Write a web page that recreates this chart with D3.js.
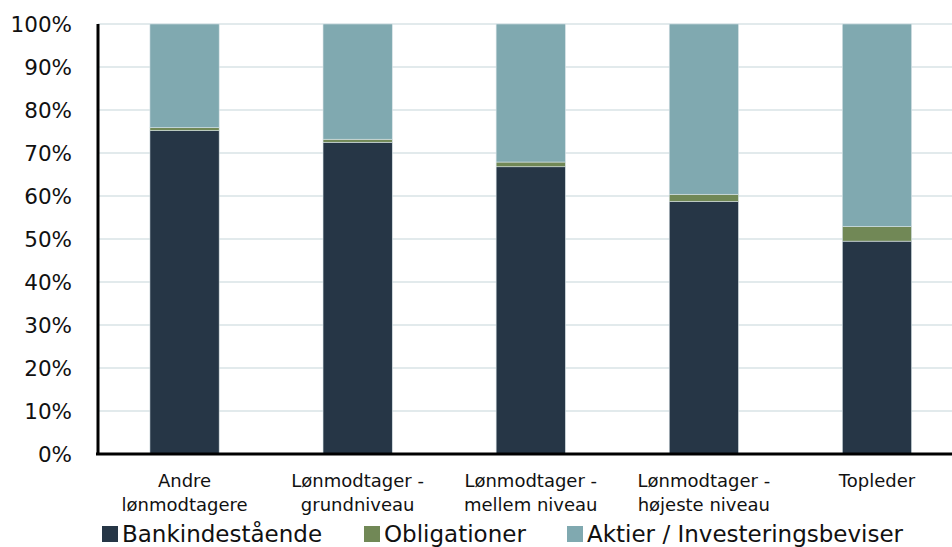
<!DOCTYPE html>
<html><head><meta charset="utf-8">
<script src="https://cdn.jsdelivr.net/npm/d3@7"></script>
<style>body{margin:0;background:#fff}svg{display:block}</style>
</head><body><svg id="c" width="952" height="547"></svg>
<script>
const categories = [["Andre","lønmodtagere"],["Lønmodtager -","grundniveau"],["Lønmodtager -","mellem niveau"],["Lønmodtager -","højeste niveau"],["Topleder"]];
const seriesNames = ["Bankindestående","Obligationer","Aktier / Investeringsbeviser"];
const bank = [75.2, 72.5, 66.8, 58.7, 49.5];
const oblig = [0.7, 0.7, 1.1, 1.7, 3.4];
const aktier = bank.map((b,i)=>100-b-oblig[i]);
const colors = ["#263646","#718856","#80a9b0"];
const yTicks = [0,10,20,30,40,50,60,70,80,90,100];

const svg = d3.select("#c");
const font = "'DejaVu Sans', sans-serif";
const m = {left:98, top:24, bottom:454};
const x = d3.scaleBand().domain(d3.range(categories.length)).range([m.left, m.left+865.5]).paddingInner(0.6).paddingOuter(0.3);
const y = d3.scaleLinear().domain([0,100]).range([m.bottom, m.top]);

// gridlines
svg.append("g").selectAll("line").data(yTicks.filter(d=>d>0)).join("line")
  .attr("x1", m.left).attr("x2", 952).attr("y1", d=>y(d)).attr("y2", d=>y(d))
  .attr("stroke", "#d8e3e6").attr("stroke-width", 1.5);

const rows = categories.map((c,i)=>({i, b:bank[i], o:oblig[i], a:aktier[i]}));
const stack = d3.stack().keys(["b","o","a"])(rows);
svg.append("g").selectAll("g").data(stack).join("g").attr("fill",(d,k)=>colors[k])
  .selectAll("rect").data(d=>d).join("rect")
  .attr("x", d=>x(d.data.i)).attr("width", x.bandwidth())
  .attr("y", d=>y(d[1])).attr("height", d=>y(d[0])-y(d[1]))
  .attr("stroke", "#d8e3e6").attr("stroke-width", 0.6);

// axes lines
svg.append("line").attr("x1", m.left).attr("x2", m.left).attr("y1", m.top).attr("y2", m.bottom+1)
  .attr("stroke","#000").attr("stroke-width",3);
svg.append("line").attr("x1", m.left-2).attr("x2", 952).attr("y1", m.bottom).attr("y2", m.bottom)
  .attr("stroke","#000").attr("stroke-width",3);

// y labels
svg.append("g").selectAll("text").data(yTicks).join("text")
  .attr("x", 72).attr("y", d=>y(d)).attr("dy","0.36em").attr("text-anchor","end")
  .attr("font-family", font).attr("font-size", 21.5).attr("fill","#111")
  .text(d=>d+"%");

// x labels
const xl = svg.append("g").selectAll("text").data(categories).join("text")
  .attr("text-anchor","middle").attr("font-family", font).attr("font-size", 18).attr("fill","#111");
xl.each(function(lines,i){
  const t = d3.select(this);
  lines.forEach((s,j)=>t.append("tspan").attr("x", x(i)+x.bandwidth()/2).attr("y", 487+j*24).text(s));
});

// legend
const legX = [102, 364, 567];
const lg = svg.append("g").selectAll("g").data(seriesNames).join("g")
  .attr("transform",(d,i)=>`translate(${legX[i]},534)`);
lg.append("rect").attr("x",0).attr("y",-8).attr("width",16).attr("height",16).attr("fill",(d,i)=>colors[i]);
lg.append("text").attr("x",20).attr("y",0).attr("dy","0.36em").attr("font-family",font).attr("font-size",23).attr("fill","#111").text(d=>d);
</script></body></html>
